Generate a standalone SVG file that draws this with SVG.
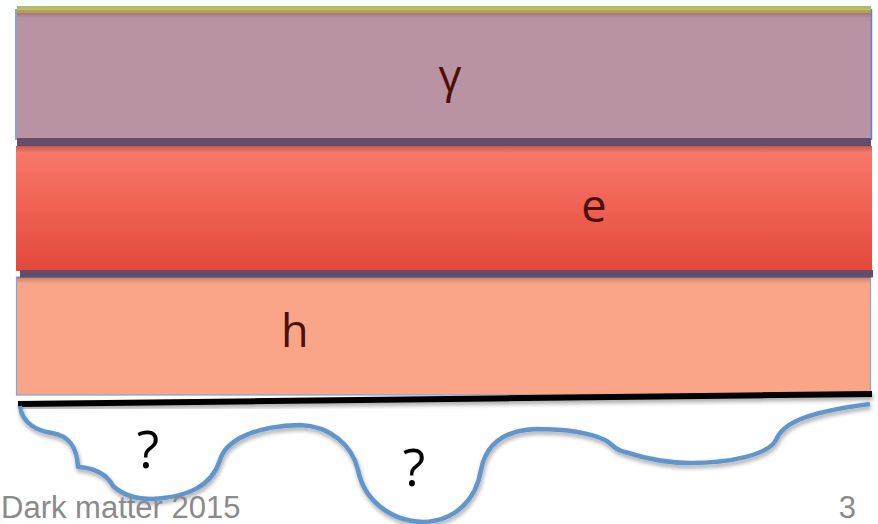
<svg xmlns="http://www.w3.org/2000/svg" width="878" height="524" viewBox="0 0 878 524">
<defs>
<linearGradient id="redG" x1="0" y1="0" x2="0" y2="1">
<stop offset="0" stop-color="#f97a6c"/>
<stop offset="1" stop-color="#e3483a"/>
</linearGradient>
<linearGradient id="shade" x1="0" y1="0" x2="0" y2="1">
<stop offset="0" stop-color="#000" stop-opacity="0.22"/>
<stop offset="1" stop-color="#000" stop-opacity="0"/>
</linearGradient>
<filter id="sh" x="-5%" y="-50%" width="110%" height="200%">
<feGaussianBlur in="SourceAlpha" stdDeviation="2"/>
<feOffset dx="1" dy="3" result="b"/>
<feComponentTransfer><feFuncA type="linear" slope="0.35"/></feComponentTransfer>
<feMerge><feMergeNode/><feMergeNode in="SourceGraphic"/></feMerge>
</filter>
</defs>
<style>
.lbl{font-family:"Open Sans","Noto Sans",sans-serif;font-size:45px;fill:#4d0f0a}
.q{font-family:"Open Sans","Noto Sans",sans-serif;font-size:52px;fill:#000}
.foot{font-family:"Liberation Sans",Arial,sans-serif;font-size:31px;fill:#8a8a8a}
.band{fill:#644c6a}
.edge{stroke:#5b86c0;stroke-width:1.5;fill:none}
</style>
<rect width="878" height="524" fill="#fff"/>
<g id="layer-gamma">
<rect x="17" y="12" width="854" height="127" fill="#b992a3"/>
<rect x="17" y="12" width="854" height="6" fill="url(#shade)"/>
<rect x="17" y="6" width="854" height="3.5" fill="#a6c262"/>
<rect x="17" y="9.5" width="854" height="3.5" fill="#c09a4e"/>
<line class="edge" x1="16" y1="9" x2="16" y2="140"/>
<line class="edge" x1="871.5" y1="9" x2="871.5" y2="140"/>
<text class="lbl" x="450" y="92" text-anchor="middle">γ</text>
</g>
<g id="layer-e">
<rect x="16" y="146" width="856" height="125" fill="url(#redG)"/>
<rect x="16" y="146" width="856" height="7" fill="url(#shade)"/>
<rect x="17" y="138" width="854" height="8" class="band"/>
<text class="lbl" x="594" y="222" text-anchor="middle">e</text>
</g>
<g id="layer-h">
<rect x="16.5" y="277" width="854" height="118" fill="#fba588" stroke="#7ea6d6" stroke-width="1.2"/>
<rect x="17" y="277" width="853" height="7" fill="url(#shade)"/>
<rect x="20" y="270" width="853" height="7.5" class="band"/>
<text class="lbl" x="281" y="347">h</text>
</g>
<g id="base" filter="url(#sh)">
<line x1="18" y1="404" x2="872" y2="394" stroke="#000" stroke-width="6"/>
</g>
<g id="unknown" filter="url(#sh)">
<path d="M20,406 C22,424 38,431 52,433 C70,436 77,448 78,467 L80,467 C98,469 108,476 113,486 C125,497 140,499 152,499 C190,497 212,485 220,460 C226,440 255,426 300,425 C330,426 352,445 358,470 C364,500 390,521 423,522 C455,521 476,500 481,470 C486,444 505,430 537,429 C565,429 590,433 605,440 C613,444 614,450 625,452 C650,460 670,463 690,463 C730,463 768,455 776,440 C782,425 800,413 870,404" fill="none" stroke="#6196cb" stroke-width="4.5" stroke-linejoin="round"/>
</g>
<text class="q" x="148" y="468" text-anchor="middle">?</text>
<text class="q" x="414" y="486" text-anchor="middle">?</text>
<text class="foot" x="1" y="518">Dark matter 2015</text>
<text class="foot" x="856" y="518" text-anchor="end">3</text>
</svg>
